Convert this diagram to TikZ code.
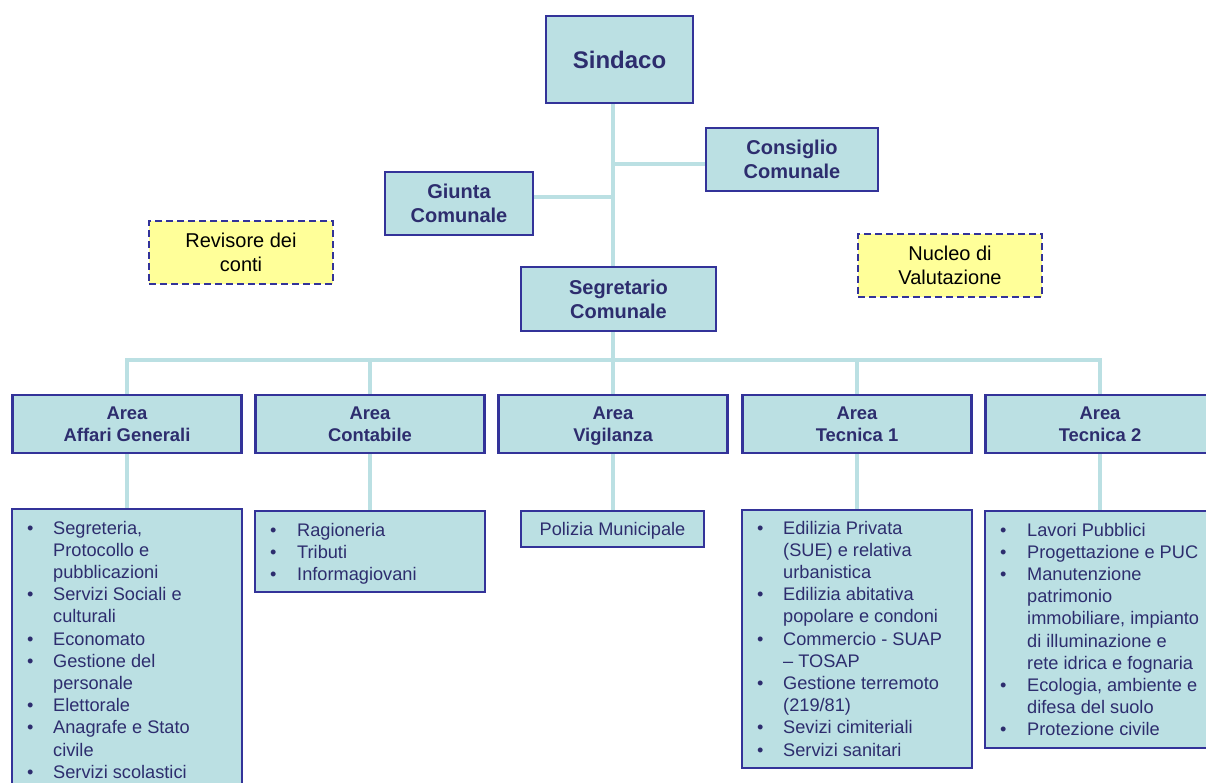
\documentclass[tikz,border=0pt]{standalone}
\usepackage{fontspec}
\setmainfont{Liberation Sans}
\usetikzlibrary{positioning,backgrounds}
\definecolor{azzurro}{RGB}{187,224,227}
\definecolor{bordo}{RGB}{51,51,153}
\definecolor{testo}{RGB}{45,45,110}
\definecolor{giallo}{RGB}{255,255,153}

\begin{document}
\begin{tikzpicture}[x=1pt, y=-1pt,
    box/.style={draw=bordo, line width=2.2pt, fill=azzurro, inner sep=0pt, align=center, text=testo},
    capo/.style={box, font=\bfseries\fontsize{20}{24}\selectfont},
    area/.style={box, minimum width=229pt, minimum height=58pt, text depth=0pt, font=\bfseries\fontsize{18.4}{22.3}\selectfont},
    nota/.style={draw=bordo, line width=2pt, dash pattern=on 7pt off 4pt, fill=giallo, inner sep=0pt,
        minimum width=184pt, minimum height=63pt, align=center, font=\fontsize{20}{24}\selectfont},
    voci/.style={inner sep=0pt, anchor=base west, text=testo, font=\fontsize{18.2}{22.2}\selectfont},
    conn/.style={draw=azzurro, line width=4pt}]
    \useasboundingbox (0,0) rectangle (1206,783);

    % vertice
    \node[capo, minimum width=147pt, minimum height=87pt, font=\bfseries\fontsize{24}{28}\selectfont] (sindaco) at (619.5,59.5) {Sindaco};
    \node[capo, minimum width=172pt, minimum height=63pt] (consiglio) at (792,159.5) {Consiglio\\Comunale};
    \node[capo, minimum width=148pt, minimum height=63pt] (giunta) at (459,203.5) {Giunta\\Comunale};
    \node[capo, minimum width=195pt, minimum height=64pt] (segretario) at (618.5,299) {Segretario\\Comunale};
    \node[nota] (revisore) at (241,252.5) {Revisore dei\\conti};
    \node[nota] (nucleo) at (950,265.5) {Nucleo di\\Valutazione};

    % aree
    \node[area] (affari) at (127,424) {Area\\Affari Generali};
    \node[area] (contabile) at (370,424) {Area\\Contabile};
    \node[area] (vigilanza) at (613,424) {Area\\Vigilanza};
    \node[area] (tecnica1) at (857,424) {Area\\Tecnica 1};
    \node[area] (tecnica2) at (1100,424) {Area\\Tecnica 2};

    % servizi
    \node[box, minimum width=230pt, minimum height=291pt] (l-affari) at (127,654.5) {};
    \node[box, minimum width=230pt, minimum height=81pt] (l-contabile) at (370,551.5) {};
    \node[box, minimum width=183pt, minimum height=36pt, text depth=0pt, font=\fontsize{18.2}{22.2}\selectfont] (l-vigilanza) at (612.5,529) {Polizia Municipale};
    \node[box, minimum width=230pt, minimum height=258pt] (l-tecnica1) at (857,639) {};
    \node[box, minimum width=230pt, minimum height=237pt] (l-tecnica2) at (1100,629.5) {};

    \node[voci] (v-affari) at (27,534) {\begin{tabular}[t]{@{}p{26pt}@{}l@{}}
        •&Segreteria,\\ &Protocollo e\\ &pubblicazioni\\
        •&Servizi Sociali e\\ &culturali\\
        •&Economato\\
        •&Gestione del\\ &personale\\
        •&Elettorale\\
        •&Anagrafe e Stato\\ &civile\\
        •&Servizi scolastici\end{tabular}};
    \node[voci] (v-contabile) at (270,536) {\begin{tabular}[t]{@{}p{27pt}@{}l@{}}
        •&Ragioneria\\
        •&Tributi\\
        •&Informagiovani\end{tabular}};
    \node[voci] (v-tecnica1) at (757,534) {\begin{tabular}[t]{@{}p{26pt}@{}l@{}}
        •&Edilizia Privata\\ &(SUE) e relativa\\ &urbanistica\\
        •&Edilizia abitativa\\ &popolare e condoni\\
        •&Commercio - SUAP\\ &– TOSAP\\
        •&Gestione terremoto\\ &(219/81)\\
        •&Sevizi cimiteriali\\
        •&Servizi sanitari\end{tabular}};
    \node[voci] (v-tecnica2) at (1000,536) {\begin{tabular}[t]{@{}p{27pt}@{}l@{}}
        •&Lavori Pubblici\\
        •&Progettazione e PUC\\
        •&Manutenzione\\ &patrimonio\\ &immobiliare, impianto\\ &di illuminazione e\\ &rete idrica e fognaria\\
        •&Ecologia, ambiente e\\ &difesa del suolo\\
        •&Protezione civile\end{tabular}};

    % collegamenti
    \begin{scope}[on background layer]
    \coordinate (barra) at (613,360);
    \draw[conn] (sindaco.south -| vigilanza.north) -- (vigilanza.north);
    \draw[conn] (consiglio.183) -- (consiglio.183 -| vigilanza.north);
    \draw[conn] (giunta.5) -- (giunta.5 -| vigilanza.north);
    \draw[conn] (affari.north) -- (affari.north |- barra) -- (tecnica2.north |- barra) -- (tecnica2.north);
    \draw[conn] (contabile.north) -- (contabile.north |- barra);
    \draw[conn] (tecnica1.north) -- (tecnica1.north |- barra);
    \draw[conn] (affari.south) -- (l-affari.north);
    \draw[conn] (contabile.south) -- (l-contabile.north);
    \draw[conn] (vigilanza.south) -- (l-vigilanza.north -| vigilanza.south);
    \draw[conn] (tecnica1.south) -- (l-tecnica1.north);
    \draw[conn] (tecnica2.south) -- (l-tecnica2.north);
    \end{scope}
\end{tikzpicture}
\end{document}
